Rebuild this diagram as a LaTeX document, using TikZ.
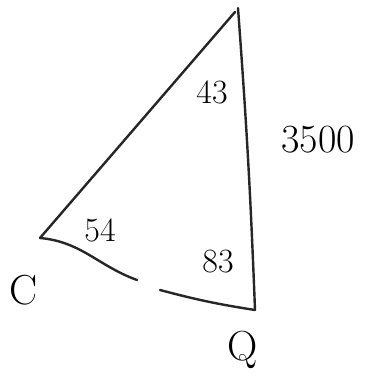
\documentclass[tikz,border=0pt]{standalone}
\begin{document}
\begin{tikzpicture}[x=1pt, y=-1pt]
    % Define styles
    \tikzstyle{edge} = [line width=2.4pt, line cap=round, black!85]
    \tikzstyle{angle} = [font=\fontsize{34}{36}\selectfont, inner sep=0pt]
    \tikzstyle{tag} = [font=\fontsize{42}{44}\selectfont, inner sep=0pt]

    \useasboundingbox (0,0) rectangle (376,381);

    % Place corners
    \coordinate (top) at (238,8);
    \coordinate (left) at (40,238);
    \coordinate (right) at (255,310);
    \coordinate (gapl) at (137,280);
    \coordinate (gapr) at (160,290);

    % Draw sides
    \draw [edge] (left) -- (235,12);
    \draw [edge] (top) to[bend left=1] (right);
    \draw [edge] (left) to[out=-5, in=160] (gapl);
    \draw [edge] (gapr) to[bend right=3] (right);

    % Angles and lengths
    \node (a43) [angle] at (212,92) {43};
    \node (a54) [angle] at (100,230) {54};
    \node (a83) [angle] at (218,262) {83};
    \node (len) [angle, font=\fontsize{40}{42}\selectfont] at (318,140) {3500};
    \node (c) [tag] at (24,290) {C};
    \node (q) [tag] at (243,350) {Q};
\end{tikzpicture}
\end{document}
